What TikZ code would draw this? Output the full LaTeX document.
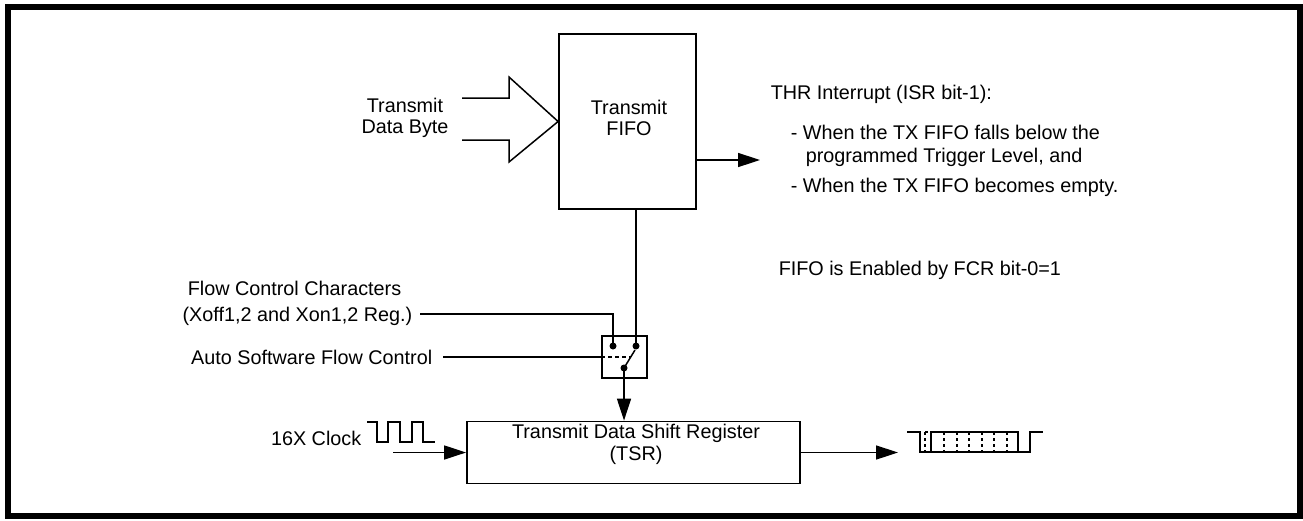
\documentclass[tikz,border=0pt]{standalone}
\usepackage{fontspec}
\setmainfont{Liberation Sans}
\usetikzlibrary{arrows.meta}
\begin{document}
\begin{tikzpicture}[x=1pt, y=-1pt, line width=1.5pt,
  every node/.style={font=\fontsize{19.8}{21.5}\selectfont},
  box/.style={draw, line width=1.8pt, inner sep=0pt},
  lbl/.style={inner sep=2pt, text height=14pt, text depth=0pt},
  sig/.style={-{Triangle[length=22pt, width=14pt]}},
  dot/.style={circle, fill, inner sep=0pt, minimum size=7pt}]

  \useasboundingbox (0,0) rectangle (1303,520);
  \draw[line width=6pt] (8,7) rectangle (1300,516);

  % transmit FIFO and its input
  \node[box, minimum width=137pt, minimum height=175pt] (fifo) at (627.5,121.5) {};
  \node[align=center] (fifotxt) at (629,118) {Transmit\\FIFO};
  \node[align=center] (byte) at (405,118) {Transmit\\Data Byte};
  \draw[line join=miter] (462,98) -- (509,98) -- (509,77) -- (fifo.west)
    -- (509,162) -- (509,140) -- (462,140);

  % THR interrupt
  \coordinate (thr) at (760,160);
  \draw[sig] (fifo.east |- thr) -- (thr);
  \node[lbl, anchor=west] (isr) at (768,92) {THR Interrupt (ISR bit-1):};
  \node[lbl, anchor=west] (w1) at (788,132) {- When the TX FIFO falls below the};
  \node[lbl, anchor=west] (w2) at (803,155) {programmed Trigger Level, and};
  \node[lbl, anchor=west] (w3) at (788,185) {- When the TX FIFO becomes empty.};
  \node[lbl, anchor=west] (fcr) at (776,268) {FIFO is Enabled by FCR bit-0=1};

  % flow control switch
  \node[box, minimum width=45pt, minimum height=42pt] (sw) at (624.5,357) {};
  \node[dot] (cl) at (613,346) {};
  \node[dot] (cr) at (636,346) {};
  \node[dot] (pv) at (624,368) {};
  \draw (pv.center) -- (635,350);
  \draw[dash pattern=on 4pt off 3pt] (sw.west) -- (631,357);
  \draw (fifo.south -| cr) -- (cr.center);

  \node[lbl, anchor=east] (flow) at (404,288) {Flow Control Characters};
  \node[lbl, anchor=east] (xoff) at (415,314) {(Xoff1,2 and Xon1,2 Reg.)};
  \node[lbl, anchor=east] (auto) at (435,357) {Auto Software Flow Control};
  \draw ([xshift=5pt]xoff.east) -| (cl.center);
  \draw ([xshift=8pt]auto.east) -- (sw.west);

  % shift register
  \node[box, minimum width=333pt, minimum height=62pt] (tsr) at (633.5,452.5) {};
  \node[align=center] (tsrtxt) at (636,444.5) {Transmit Data Shift Register\\(TSR)};
  \draw[sig] (pv.center) -- (pv |- tsr.north);

  % clock in
  \node[lbl, anchor=east] (clk) at (364,438) {16X Clock};
  \draw (367,422) -- ++(10,0) -- ++(0,20) -- ++(11,0) -- ++(0,-20) -- ++(12,0)
    -- ++(0,20) -- ++(12,0) -- ++(0,-20) -- ++(11,0) -- ++(0,20) -- ++(12,0);
  \coordinate (ck) at (393,452.5);
  \draw[sig] (ck) -- (tsr.west);

  % serial out
  \coordinate (out) at (898,452.5);
  \draw[sig] (tsr.east) -- (out);
  \draw (907,432) -- (920,432) -- (920,452) -- (1030,452) -- (1030,432) -- (1043,432);
  \draw[line width=1.2pt, dash pattern=on 3pt off 3pt] (925,432) -- (925,452);
  \draw (925,432) -- (928,432);
  \draw (931,432) rectangle (1018,452);
  \foreach \x in {944,957,969,982,994,1007}
    \draw[line width=1.2pt, dash pattern=on 3pt off 3pt] (\x,432) -- (\x,452);

\end{tikzpicture}
\end{document}
